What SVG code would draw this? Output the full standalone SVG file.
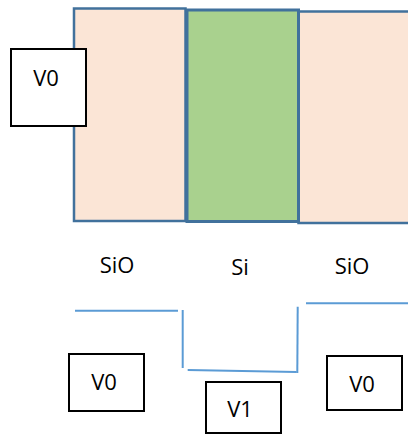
<svg xmlns="http://www.w3.org/2000/svg" width="408" height="434" viewBox="0 0 408 434">
  <style>
    .layer { stroke: #41719C; stroke-width: 2.5; }
    .oxide { fill: #FBE5D6; }
    .silicon { fill: #A9D18E; stroke-width: 3; }
    .box { fill: #FFFFFF; stroke: #000000; stroke-width: 2; }
    .label { font-family: "Open Sans", "Liberation Sans", sans-serif; font-size: 22px; fill: #000000; text-anchor: middle; }
    .band { stroke: #5B9BD5; stroke-width: 2; fill: none; }
  </style>

  <!-- material layers -->
  <g id="layer-sio-left">
    <rect class="layer oxide" x="74" y="8.5" width="111.5" height="212.5"/>
  </g>
  <g id="layer-sio-right">
    <rect class="layer oxide" x="298.5" y="11.5" width="112" height="211.5"/>
  </g>
  <g id="layer-si">
    <rect class="layer silicon" x="187" y="10" width="111.5" height="211.5"/>
  </g>

  <!-- potential label on the left -->
  <g id="v0-top">
    <rect class="box" x="11" y="49" width="75" height="77"/>
    <text class="label" x="46" y="86">V0</text>
  </g>

  <!-- region names -->
  <g id="label-sio-left"><text class="label" x="117" y="273">SiO</text></g>
  <g id="label-si"><text class="label" x="240" y="275">Si</text></g>
  <g id="label-sio-right"><text class="label" x="352" y="274">SiO</text></g>

  <!-- potential well profile -->
  <g id="connectors">
    <line class="band" x1="75" y1="310.7" x2="178" y2="310.7"/>
    <line class="band" x1="182.7" y1="310" x2="182.7" y2="368"/>
    <line class="band" x1="187.7" y1="370" x2="296.7" y2="372"/>
    <line class="band" x1="297.7" y1="306.7" x2="297.3" y2="373"/>
    <line class="band" x1="306" y1="303.3" x2="408" y2="303.3"/>
  </g>

  <!-- potential levels -->
  <g id="v0-left">
    <rect class="box" x="69" y="354" width="75" height="57"/>
    <text class="label" x="104" y="390">V0</text>
  </g>
  <g id="v1">
    <rect class="box" x="206" y="382" width="75" height="51"/>
    <text class="label" x="240" y="417">V1</text>
  </g>
  <g id="v0-right">
    <rect class="box" x="327" y="356" width="75" height="54"/>
    <text class="label" x="362" y="392">V0</text>
  </g>
</svg>
